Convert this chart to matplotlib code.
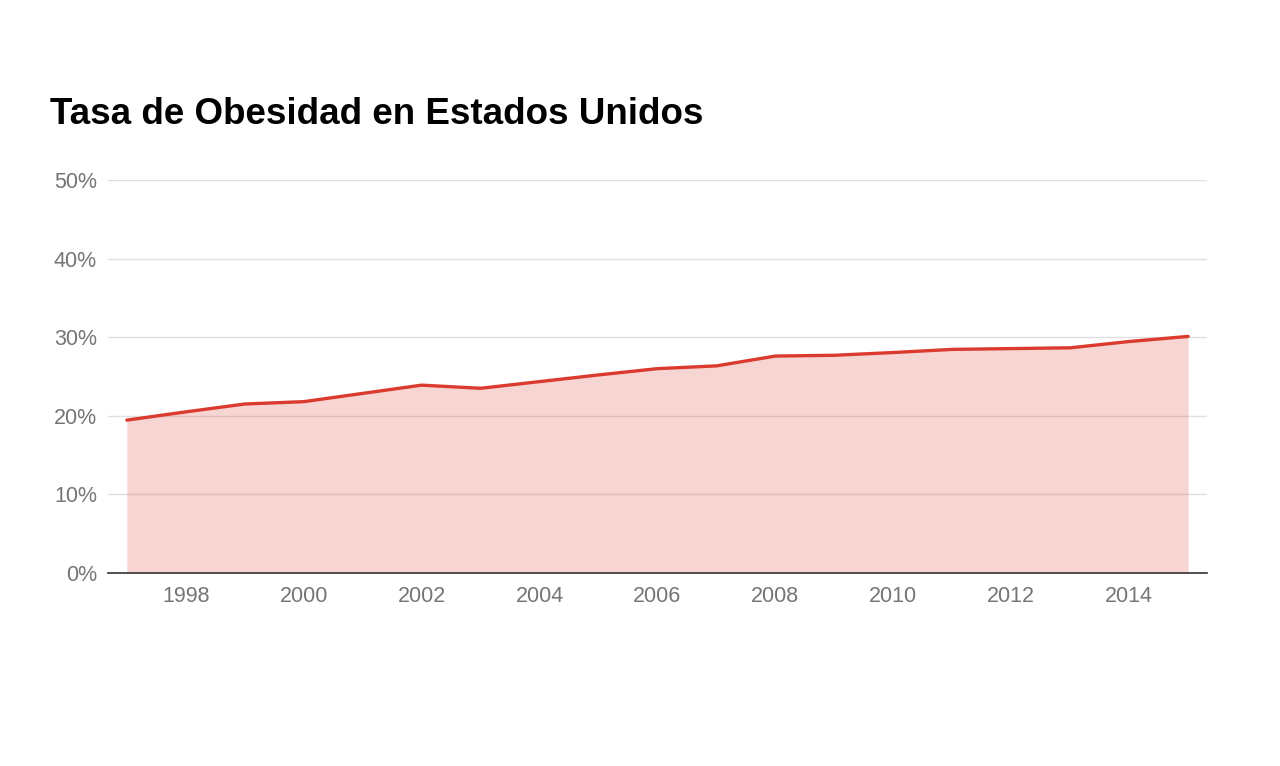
import matplotlib
matplotlib.use("Agg")
import matplotlib.pyplot as plt

years = list(range(1997, 2016))
obesity = [19.45, 20.5, 21.5, 21.8, 22.85, 23.9, 23.5, 24.35, 25.2, 26.0,
           26.35, 27.6, 27.7, 28.05, 28.45, 28.55, 28.65, 29.45, 30.1]
y_ticks = [0, 10, 20, 30, 40, 50]
x_ticks = list(range(1998, 2015, 2))
title = "Tasa de Obesidad en Estados Unidos"

plt.rcParams['font.family'] = ['Liberation Sans', 'DejaVu Sans']

fig = plt.figure(figsize=(12.8, 7.66), dpi=100)
ax = fig.add_axes([108/1280, (766-573)/766, 1099/1280, 393/766])

red = "#DB3A2E"
ax.fill_between(years, obesity, 0, color="#DB4437", alpha=0.22, linewidth=0, zorder=2)
ax.plot(years, obesity, color=red, linewidth=2.4, zorder=3, solid_capstyle='round')

ax.set_xlim(1996.68, 2015.32)
ax.set_ylim(0, 50)
ax.set_yticks(y_ticks)
ax.set_yticklabels([f"{v}%" for v in y_ticks])
ax.set_xticks(x_ticks)
ax.set_xticklabels([str(v) for v in x_ticks])

ax.grid(axis='y', color="#e0e0e0", linewidth=1, zorder=1)
ax.set_axisbelow(True)
for s in ['top', 'right', 'left']:
    ax.spines[s].set_visible(False)
ax.spines['bottom'].set_color('#333333')
ax.spines['bottom'].set_linewidth(1.2)
ax.spines['bottom'].set_zorder(4)
ax.tick_params(axis='both', length=0, labelsize=15.5, labelcolor='#757575')
ax.tick_params(axis='y', pad=8)
ax.tick_params(axis='x', pad=9)

fig.text(50/1280, 1 - 114/766, title, fontsize=26.5, fontweight='bold',
         color='black', ha='left', va='center')

fig.savefig("out.png", dpi=100, facecolor='white')
